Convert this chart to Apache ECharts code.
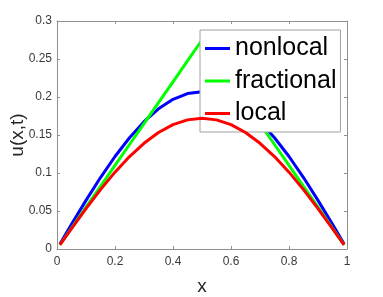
<!DOCTYPE html>
<html>
<head>
<meta charset="utf-8">
<script src="https://cdn.jsdelivr.net/npm/echarts@6/dist/echarts.min.js"></script>
<style>html,body{margin:0;padding:0;background:#fff}#c{width:383px;height:297px}</style>
</head>
<body>
<div id="c"></div>
<script>
const xValues = [0.01,0.05,0.1,0.15,0.2,0.25,0.3,0.35,0.4,0.45,0.5,0.55,0.6,0.65,0.7,0.75,0.8,0.85,0.9,0.95,0.99];
const nonlocalValues = [0.0065,0.0324,0.064,0.094,0.1217,0.1464,0.1675,0.1844,0.1969,0.2045,0.207,0.2045,0.1969,0.1844,0.1675,0.1464,0.1217,0.094,0.064,0.0324,0.0065];
const fractionalValues = [0.0055,0.0275,0.055,0.0825,0.11,0.1375,0.165,0.1925,0.22,0.2475,0.275,0.2475,0.22,0.1925,0.165,0.1375,0.11,0.0825,0.055,0.0275,0.0055];
const localValues = [0.0054,0.0269,0.0531,0.0781,0.1011,0.1216,0.1391,0.1533,0.1636,0.1699,0.172,0.1699,0.1636,0.1533,0.1391,0.1216,0.1011,0.0781,0.0531,0.0269,0.0054];
const seriesNames = ['nonlocal','fractional','local'];
const seriesColors = ['#0000ff','#00ff00','#ff0000'];
const seriesValues = [nonlocalValues, fractionalValues, localValues];

const FONT = 'Liberation Sans, Arial, sans-serif';
const axisColor = '#8f8f8f';
const labelColor = '#3a3a3a';

const chart = echarts.init(document.getElementById('c'), null, {renderer:'canvas'});
const baseAxis = {
  type:'value',
  axisLine:{show:true, onZero:false, lineStyle:{color:axisColor, width:1}},
  axisTick:{show:true, inside:true, length:3, lineStyle:{color:axisColor}},
  splitLine:{show:false}
};
chart.setOption({
  animation:false,
  backgroundColor:'#fff',
  grid:{left:57, top:21, right:36, bottom:48, containLabel:false, outerBoundsMode:'none'},
  legend:{
    orient:'vertical', left:200, top:30,
    data:seriesNames,
    icon:'rect', itemWidth:25, itemHeight:3, itemGap:7.5,
    padding:[6,4,6,5],
    borderColor:'#a0a0a0', borderWidth:1, backgroundColor:'#fff',
    textStyle:{fontFamily:FONT, fontSize:25, color:'#000', lineHeight:24}
  },
  xAxis:[
    Object.assign({}, baseAxis, {
      position:'bottom', min:0, max:1, interval:0.2,
      name:'x', nameLocation:'middle', nameGap:28, nameMoveOverlap:false,
      nameTextStyle:{fontFamily:FONT, fontSize:19, color:'#262626'},
      axisLabel:{show:true, margin:7, fontFamily:FONT, fontSize:12, color:labelColor}
    }),
    Object.assign({}, baseAxis, {
      position:'top', min:0, max:1, interval:0.2,
      axisLabel:{show:false}
    })
  ],
  yAxis:[
    Object.assign({}, baseAxis, {
      position:'left', min:0, max:0.3, interval:0.05,
      name:'u(x,t)', nameLocation:'middle', nameGap:30, nameMoveOverlap:false,
      nameTextStyle:{fontFamily:FONT, fontSize:19, color:'#262626'},
      axisLabel:{show:true, margin:5, fontFamily:FONT, fontSize:12, color:labelColor}
    }),
    Object.assign({}, baseAxis, {
      position:'right', min:0, max:0.3, interval:0.05,
      axisLabel:{show:false}
    })
  ],
  series: seriesNames.map((n,i)=>({
    name:n, type:'line', xAxisIndex:0, yAxisIndex:0,
    data: xValues.map((x,j)=>[x, seriesValues[i][j]]),
    showSymbol:false, symbol:'none',
    lineStyle:{color:seriesColors[i], width:3},
    itemStyle:{color:seriesColors[i]},
    z: 2+i
  }))
});
</script>
</body>
</html>
